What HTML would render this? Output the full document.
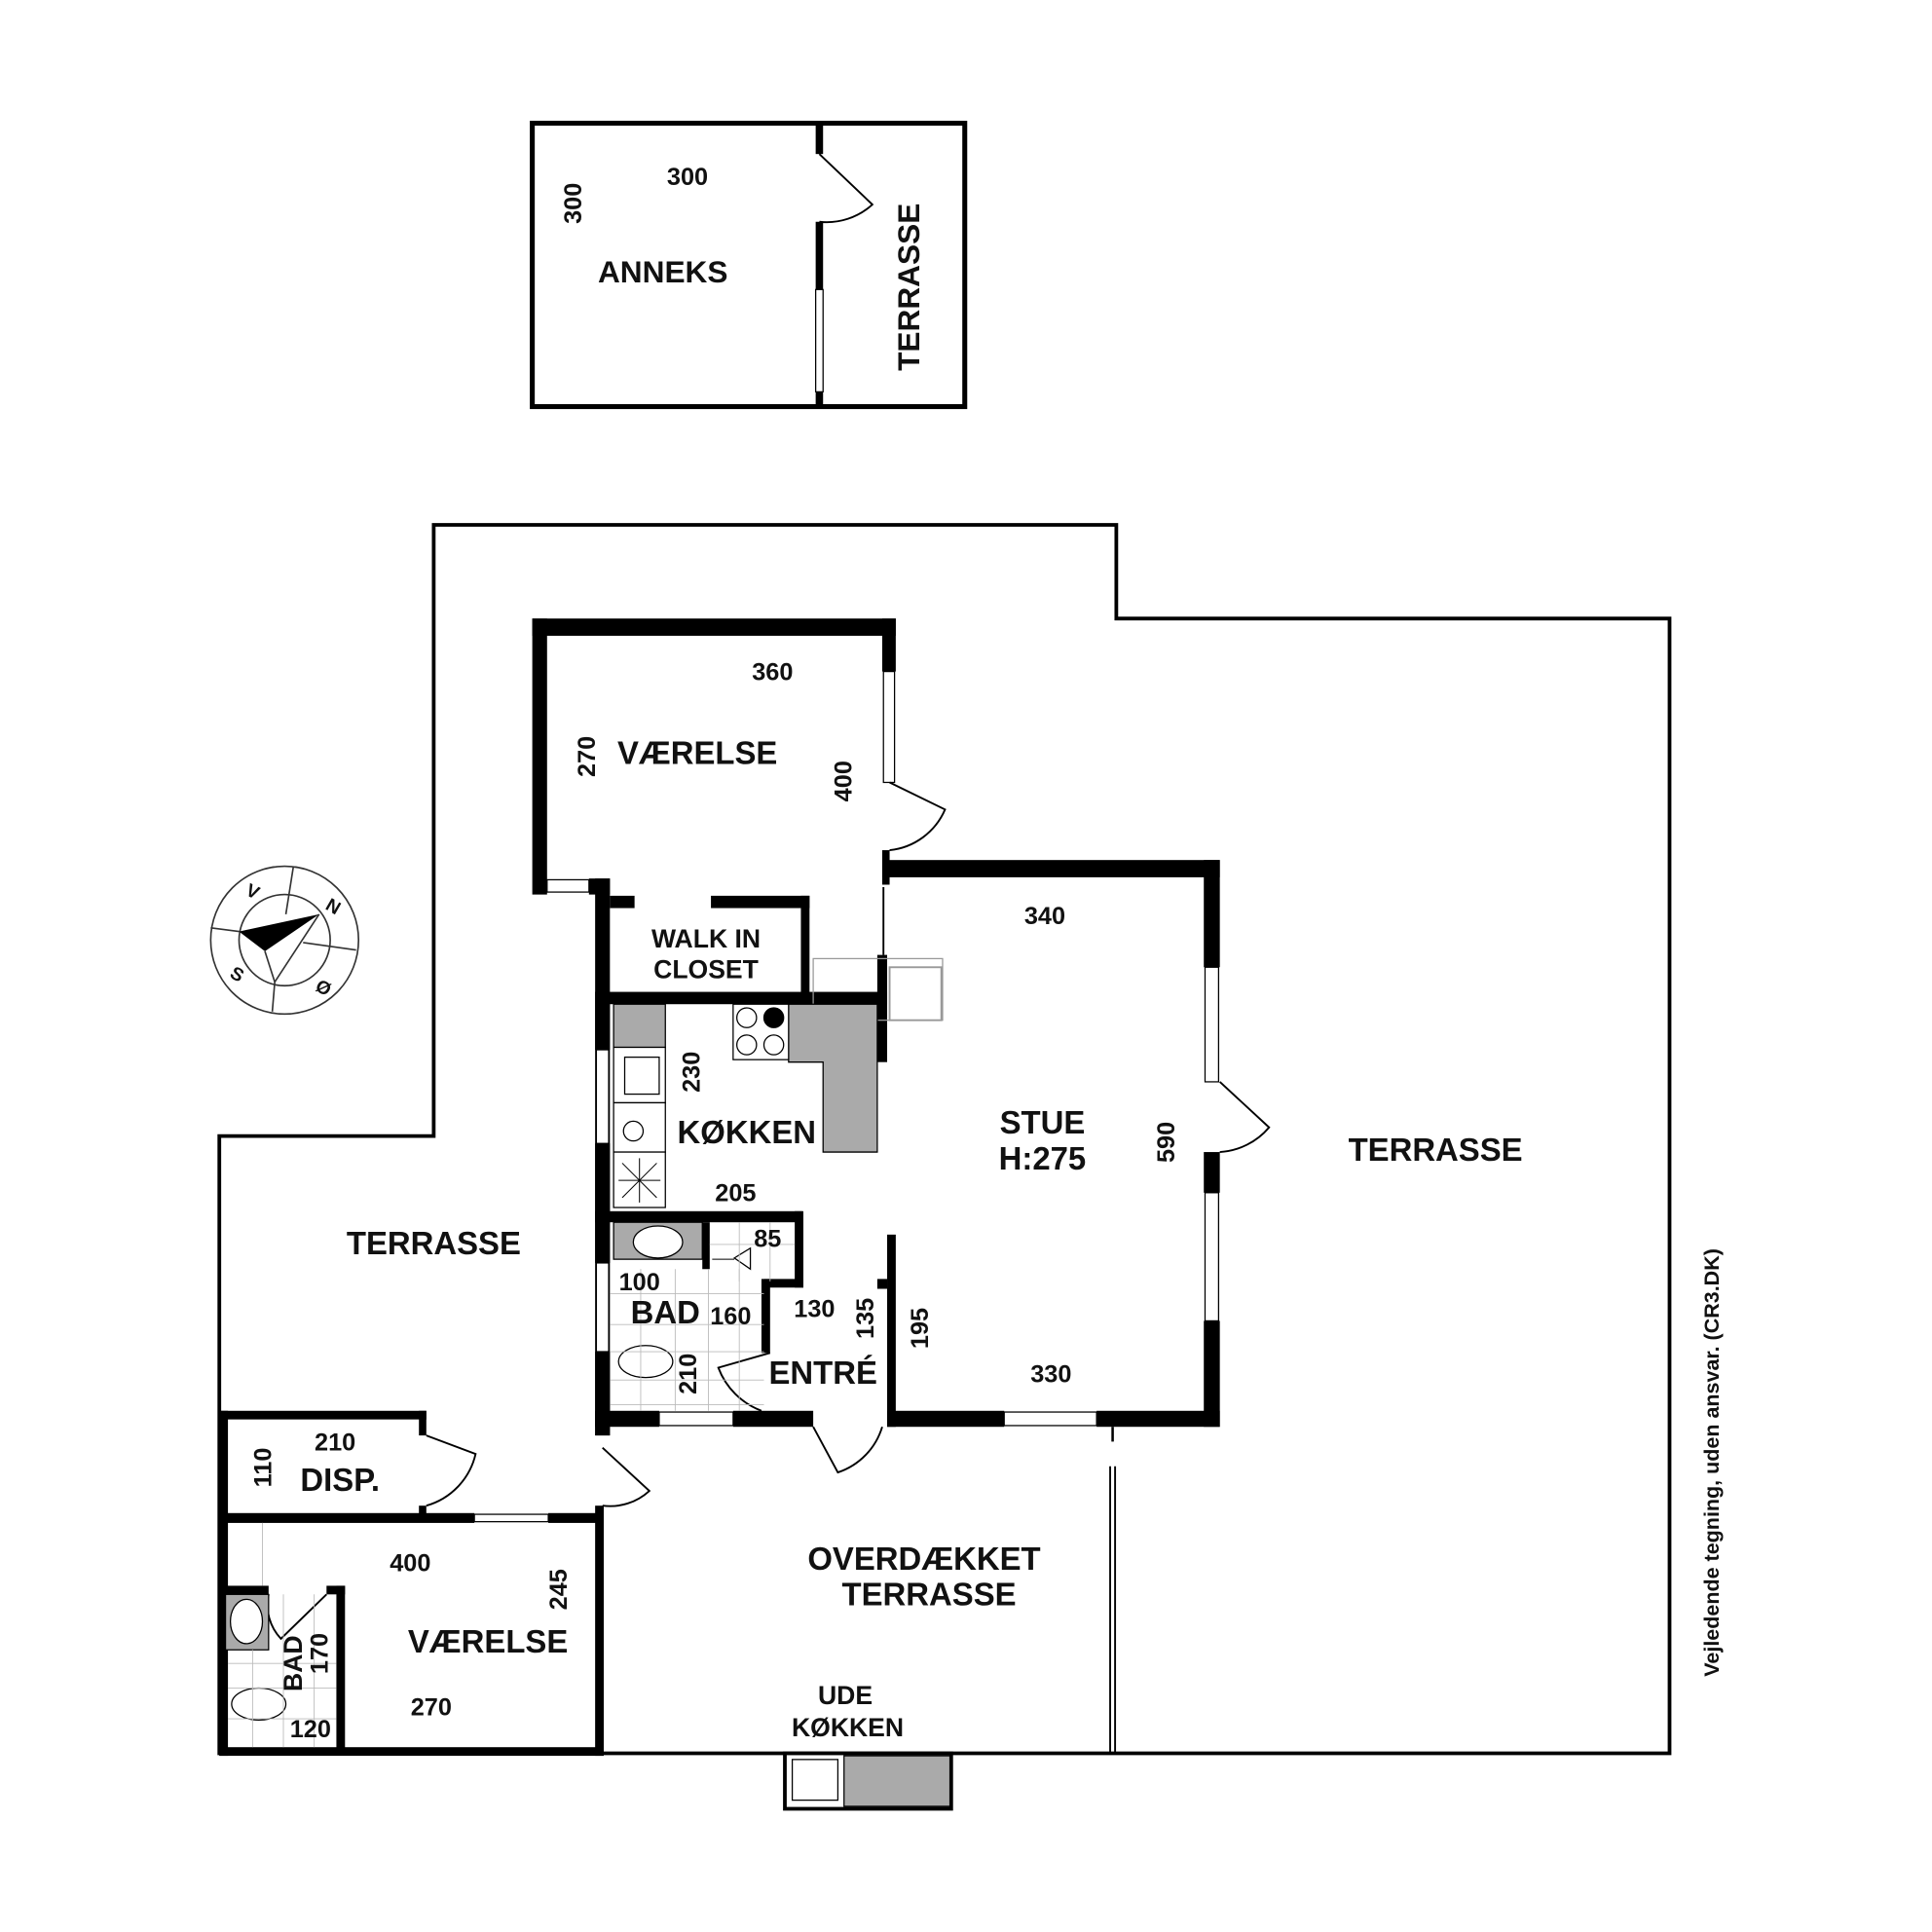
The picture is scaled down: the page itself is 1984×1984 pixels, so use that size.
<!DOCTYPE html>
<html><head><meta charset="utf-8"><style>html,body{margin:0;padding:0;background:#fff}svg{display:block}text{font-family:"Liberation Sans",sans-serif;font-weight:bold;fill:#111}</style></head><body>
<svg width="1984" height="1984" viewBox="0 0 1568 1568" xmlns="http://www.w3.org/2000/svg">
<rect width="1568" height="1568" fill="#fff"/>
<!-- Annex -->
<rect x="432" y="100" width="351" height="230" fill="none" stroke="#000" stroke-width="4"/>
<rect x="662" y="100" width="6" height="25" fill="#000"/>
<rect x="662" y="180" width="6" height="55" fill="#000"/>
<rect x="662" y="235" width="6" height="83" fill="#fff" stroke="#000" stroke-width="1"/>
<rect x="662" y="318" width="6" height="12" fill="#000"/>
<path d="M665,125 L708,166 A55,55 0 0 1 665,180" fill="none" stroke="#000" stroke-width="1.5"/>
<text x="558" y="150" font-size="20" text-anchor="middle">300</text>
<text transform="translate(472,165) rotate(-90)" font-size="20" text-anchor="middle">300</text>
<text x="538" y="229" font-size="25" text-anchor="middle">ANNEKS</text>
<text transform="translate(746,233) rotate(-90)" font-size="25" text-anchor="middle">TERRASSE</text>

<!-- Terrace outline -->
<path d="M352,426 L906,426 L906,502 L1355,502 L1355,1423 L178,1423 L178,922 L352,922 Z" fill="none" stroke="#000" stroke-width="3"/>
<line x1="901" y1="1190" x2="901" y2="1423" stroke="#000" stroke-width="1.5"/>
<line x1="905" y1="1190" x2="905" y2="1423" stroke="#000" stroke-width="1.5"/>
<line x1="903" y1="1158" x2="903" y2="1170" stroke="#000" stroke-width="2"/>

<g fill="#000">
<rect x="432" y="502" width="295" height="14"/>
<rect x="432" y="502" width="12" height="224"/>
<rect x="716" y="502" width="11" height="43"/>
<rect x="716" y="690" width="6" height="28"/>
<rect x="478" y="713" width="17" height="13"/>
<rect x="483" y="713" width="12" height="452"/>
<rect x="495" y="727" width="20" height="10"/>
<rect x="577" y="727" width="80" height="10"/>
<rect x="650" y="727" width="7" height="83"/>
<rect x="483" y="805" width="237" height="10"/>
<rect x="716" y="698" width="274" height="14"/>
<rect x="977" y="698" width="13" height="87"/>
<rect x="977" y="935" width="13" height="33"/>
<rect x="977" y="1072" width="13" height="86"/>
<rect x="720" y="1145" width="95" height="13"/>
<rect x="890" y="1145" width="100" height="13"/>
<rect x="712" y="775" width="8" height="87"/>
<rect x="720" y="1002" width="7" height="156"/>
<rect x="712" y="1038" width="8" height="8"/>
<rect x="483" y="815" width="12" height="37"/>
<rect x="483" y="928" width="12" height="97"/>
<rect x="483" y="1097" width="12" height="68"/>
<rect x="483" y="983" width="168" height="9"/>
<rect x="570" y="992" width="6" height="38"/>
<rect x="645" y="983" width="7" height="62"/>
<rect x="620" y="1038" width="32" height="7"/>
<rect x="618" y="1038" width="7" height="60"/>
<rect x="483" y="1145" width="52" height="13"/>
<rect x="595" y="1145" width="65" height="13"/>
<rect x="178" y="1145" width="168" height="7"/>
<rect x="178" y="1145" width="7" height="280"/>
<rect x="340" y="1145" width="6" height="20"/>
<rect x="340" y="1222" width="6" height="10"/>
<rect x="178" y="1228" width="207" height="8"/>
<rect x="445" y="1228" width="44" height="8"/>
<rect x="483" y="1222" width="7" height="203"/>
<rect x="178" y="1418" width="312" height="7"/>
<rect x="178" y="1287" width="40" height="7"/>
<rect x="265" y="1287" width="15" height="7"/>
<rect x="273" y="1287" width="7" height="136"/>
</g>
<g fill="#fff" stroke="#000" stroke-width="1">
<rect x="717" y="545" width="9" height="90"/>
<rect x="978" y="785" width="11" height="93"/>
<rect x="978" y="968" width="11" height="104"/>
<rect x="815" y="1146" width="75" height="11"/>
<rect x="535" y="1146" width="60" height="11"/>
<rect x="484" y="852" width="10" height="76"/>
<rect x="484" y="1025" width="10" height="72"/>
<rect x="385" y="1229" width="60" height="6"/>
<rect x="444" y="714" width="34" height="10"/>
</g>
<line x1="717" y1="720" x2="717" y2="775" stroke="#000" stroke-width="1.5"/>
<g fill="none" stroke="#000" stroke-width="1.5">
<path d="M722,635 L767,657 A55,55 0 0 1 722,690"/>
<path d="M990,878 L1030,915 A57,57 0 0 1 990,935"/>
<path d="M660,1158 L680,1195 A56,56 0 0 0 716,1158"/>
<path d="M346,1165 L386,1180 A57,57 0 0 1 346,1222"/>
<path d="M489,1175 L527,1210 A47,47 0 0 1 489,1222"/>
<path d="M625,1098 L583,1110 A60,60 0 0 0 618,1145"/>
<path d="M265,1294 L228,1330 A40,40 0 0 1 218,1294"/>
<rect x="660" y="778" width="105" height="50" stroke="#999" stroke-width="1"/>
<rect x="722" y="785" width="42" height="43" stroke="#999"/>
</g>
<g stroke="#000" stroke-width="1">
<rect x="498" y="815" width="42" height="35" fill="#aaa"/>
<path d="M640,815 H712 V935 H668 V862 H640 Z" fill="#aaa"/>
<rect x="595" y="815" width="45" height="45" fill="#fff"/>
<rect x="498" y="850" width="42" height="45" fill="#fff"/>
<rect x="507" y="858" width="28" height="30" fill="none"/>
<rect x="498" y="895" width="42" height="40" fill="#fff"/>
<rect x="498" y="935" width="42" height="45" fill="#fff"/>
<rect x="498" y="992" width="72" height="30" fill="#aaa"/>
<rect x="637" y="1423" width="135" height="45" fill="#fff" stroke-width="3"/>
<rect x="685" y="1425" width="86" height="41" fill="#aaa"/>
<rect x="643" y="1428" width="37" height="33" fill="none"/>
<rect x="183" y="1294" width="35" height="45" fill="#aaa"/>
</g>
<g fill="#fff" stroke="#000" stroke-width="1">
<circle cx="606" cy="826" r="8"/><circle cx="628" cy="826" r="8" fill="#000"/>
<circle cx="606" cy="848" r="8"/><circle cx="628" cy="848" r="8"/>
<ellipse cx="534" cy="1008" rx="20" ry="13"/>
<ellipse cx="524" cy="1105" rx="22" ry="13"/>
<ellipse cx="200" cy="1316" rx="13" ry="18"/>
<ellipse cx="210" cy="1383" rx="22" ry="13"/>
<ellipse cx="514" cy="918" rx="8" ry="8"/>
<path d="M596,1021 L609,1013 V1030 Z"/>
</g>
<g stroke="#000" stroke-width="0.8">
<line x1="502" y1="958" x2="536" y2="958"/><line x1="519" y1="940" x2="519" y2="976"/>
<line x1="505" y1="944" x2="533" y2="972"/><line x1="533" y1="944" x2="505" y2="972"/>
<line x1="578" y1="1022" x2="596" y2="1022"/>
</g>
<g stroke="#bbb" stroke-width="0.7">
<line x1="495" y1="1050" x2="620" y2="1050"/><line x1="495" y1="1075" x2="620" y2="1075"/><line x1="495" y1="1097" x2="620" y2="1097"/><line x1="495" y1="1120" x2="620" y2="1120"/><line x1="495" y1="1140" x2="620" y2="1140"/>
<line x1="520" y1="1030" x2="520" y2="1145"/><line x1="548" y1="1030" x2="548" y2="1145"/><line x1="575" y1="1030" x2="575" y2="1145"/><line x1="600" y1="1030" x2="600" y2="1145"/>
<line x1="576" y1="1010" x2="645" y2="1010"/><line x1="600" y1="992" x2="600" y2="1040"/><line x1="625" y1="992" x2="625" y2="1040"/>
<line x1="185" y1="1350" x2="273" y2="1350"/><line x1="185" y1="1370" x2="273" y2="1370"/><line x1="185" y1="1395" x2="273" y2="1395"/>
<line x1="205" y1="1339" x2="205" y2="1418"/><line x1="230" y1="1294" x2="230" y2="1418"/><line x1="255" y1="1294" x2="255" y2="1418"/>
<line x1="213" y1="1236" x2="213" y2="1287"/>
</g>
<!-- compass -->
<g fill="none" stroke="#333" stroke-width="1.3">
<circle cx="231" cy="763" r="60"/><circle cx="231" cy="763" r="37"/>
<line x1="238" y1="704" x2="232" y2="742"/>
<line x1="289" y1="771" x2="246" y2="765"/>
<line x1="171" y1="753" x2="194" y2="756"/>
<line x1="221" y1="821" x2="223" y2="797"/>
<line x1="215" y1="772" x2="223" y2="797"/>
<line x1="259" y1="742" x2="223" y2="797"/>
</g>
<path d="M259,742 L194,756 L215,772 Z" fill="#000"/>
<g font-size="15">
<text transform="translate(203,728) rotate(25)" text-anchor="middle">V</text>
<text transform="translate(268,740) rotate(30)" text-anchor="middle">N</text>
<text transform="translate(190,795) rotate(30)" text-anchor="middle">S</text>
<text transform="translate(260,806) rotate(30)" text-anchor="middle">Ø</text>
</g>
<g font-size="20" text-anchor="middle">
<text x="627" y="552">360</text>
<text transform="translate(483,614) rotate(-90)">270</text>
<text transform="translate(691,634) rotate(-90)">400</text>
<text x="848" y="750">340</text>
<text transform="translate(568,870) rotate(-90)">230</text>
<text x="597" y="975">205</text>
<text transform="translate(953,927) rotate(-90)">590</text>
<text x="623" y="1012">85</text>
<text x="519" y="1047">100</text>
<text x="593" y="1075">160</text>
<text x="661" y="1069">130</text>
<text transform="translate(709,1070) rotate(-90)">135</text>
<text transform="translate(753,1078) rotate(-90)">195</text>
<text transform="translate(565,1115) rotate(-90)">210</text>
<text x="853" y="1122">330</text>
<text x="272" y="1177">210</text>
<text transform="translate(220,1191) rotate(-90)">110</text>
<text x="333" y="1275">400</text>
<text transform="translate(460,1290) rotate(-90)">245</text>
<text transform="translate(266,1342) rotate(-90)">170</text>
<text x="350" y="1392">270</text>
<text x="252" y="1410">120</text>
</g>
<g font-size="26" text-anchor="middle">
<text x="566" y="620">VÆRELSE</text>
<text x="573" y="769" font-size="21">WALK IN</text>
<text x="573" y="794" font-size="21">CLOSET</text>
<text x="606" y="928">KØKKEN</text>
<text x="846" y="920">STUE</text>
<text x="846" y="949">H:275</text>
<text x="1165" y="942">TERRASSE</text>
<text x="352" y="1018">TERRASSE</text>
<text x="540" y="1074">BAD</text>
<text x="668" y="1123">ENTRÉ</text>
<text x="276" y="1210">DISP.</text>
<text x="396" y="1341">VÆRELSE</text>
<text transform="translate(245,1350) rotate(-90)" font-size="21">BAD</text>
<text x="750" y="1274">OVERDÆKKET</text>
<text x="754" y="1303">TERRASSE</text>
<text x="686" y="1383" font-size="21">UDE</text>
<text x="688" y="1409" font-size="21">KØKKEN</text>
</g>
<text transform="translate(1395,1187) rotate(-90)" font-size="17" text-anchor="middle">Vejledende tegning, uden ansvar. (CR3.DK)</text>
</svg>
</body></html>
